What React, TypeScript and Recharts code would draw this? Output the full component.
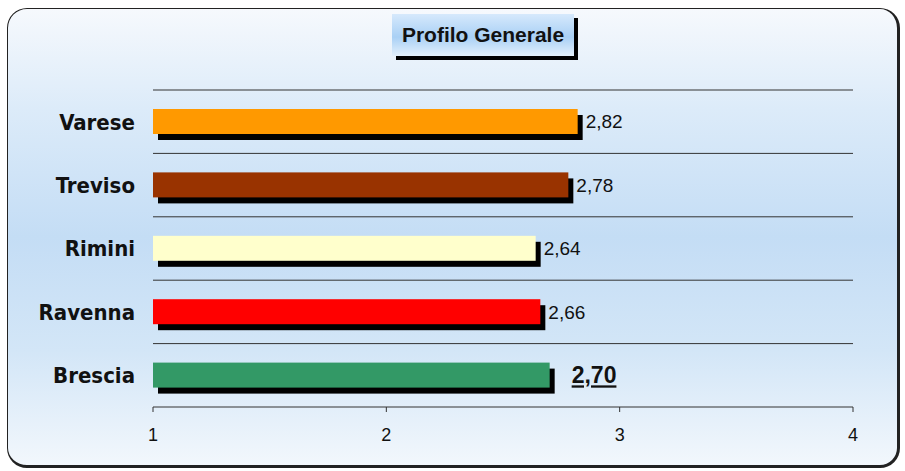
import { BarChart, Bar, XAxis, YAxis, CartesianGrid, Cell, LabelList } from 'recharts';

const CITIES = ['Varese', 'Treviso', 'Rimini', 'Ravenna', 'Brescia'];
const SCORES = [2.82, 2.78, 2.64, 2.66, 2.70];
const BAR_COLORS = ['#ff9900', '#993300', '#ffffcc', '#ff0000', '#339966'];
const X_TICKS = [1, 2, 3, 4];
const HIGHLIGHT = 'Brescia';

const rows = CITIES.map((city, i) => ({ city, score: SCORES[i], color: BAR_COLORS[i] }));

const fmt = (v: number) => v.toFixed(2).replace('.', ',');

// barra con ombra nera spostata in basso a destra
const ShadowBar = (props: any) => {
  const { x, y, width, height, fill } = props;
  if (width <= 0) return null;
  return (
    <g>
      <rect x={x + 5} y={y + 6} width={width} height={height} fill="#000" />
      <rect x={x} y={y} width={width} height={height} fill={fill} />
    </g>
  );
};

const ValueLabel = (props: any) => {
  const { x, y, width, height, value, index } = props;
  const big = CITIES[index] === HIGHLIGHT;
  const tx = x + width + (big ? 22 : 8);
  const ty = y + height / 2;
  return (
    <text
      x={tx}
      y={ty}
      dy="0.36em"
      fill="#111"
      fontFamily="Arial, 'Liberation Sans', sans-serif"
      fontSize={big ? 23 : 19}
      fontWeight={big ? 'bold' : 'normal'}
      textDecoration={big ? 'underline' : 'none'}
    >
      {fmt(value)}
    </text>
  );
};

export default function App() {
  return (
    <div style={{ position: 'absolute', left: 0, top: 0, width: 905, height: 471 }}>
      {/* cornice arrotondata con sfondo sfumato */}
      <div
        style={{
          position: 'absolute',
          left: 7,
          top: 8,
          width: 893,
          height: 460,
          boxSizing: 'border-box',
          border: '1.5px solid #222',
          borderRightWidth: 3,
          borderBottomWidth: 3,
          borderRadius: 20,
          background:
            'linear-gradient(180deg, #f6f9fd 0%, #dcebf9 22%, #c4ddf5 50%, #d3e6f7 75%, #f2f7fc 100%)',
        }}
      />
      {/* titolo */}
      <div
        style={{
          position: 'absolute',
          left: 392,
          top: 14,
          width: 182,
          height: 42,
          boxSizing: 'border-box',
          background: 'linear-gradient(180deg, #d6e9fc 0%, #a9d0f5 55%, #e3f0fc 100%)',
          boxShadow: '4px 4px 0 #000',
          display: 'flex',
          alignItems: 'center',
          justifyContent: 'center',
          fontFamily: "Arial, 'Liberation Sans', sans-serif",
          fontWeight: 'bold',
          fontSize: 21,
          color: '#111',
          whiteSpace: 'nowrap',
        }}
      >
        Profilo Generale
      </div>
      <div style={{ position: 'absolute', left: 0, top: 0 }}>
        <BarChart
          width={905}
          height={471}
          layout="vertical"
          data={rows}
          margin={{ top: 90, right: 52, bottom: 34, left: 13 }}
        >
          <CartesianGrid
            vertical={false}
            stroke="#333"
            strokeWidth={1}
            horizontalCoordinatesGenerator={({ offset }: any) =>
              CITIES.map((_, i) => offset.top + (i * offset.height) / CITIES.length)
            }
          />
          <XAxis
            type="number"
            domain={[1, 4]}
            ticks={X_TICKS}
            allowDataOverflow
            height={30}
            axisLine={{ stroke: '#333' }}
            tickLine={{ stroke: '#333' }}
            tickSize={5}
            tickMargin={16}
            tick={{ fill: '#111', fontSize: 18, fontFamily: "Arial, 'Liberation Sans', sans-serif" }}
          />
          <YAxis
            type="category"
            dataKey="city"
            width={140}
            axisLine={false}
            tickLine={false}
            tickSize={0}
            tickMargin={18}
            tick={{
              fill: '#111',
              fontSize: 22,
              fontWeight: 'bold',
              fontFamily: "'Comic Sans MS', 'DejaVu Sans Condensed', 'DejaVu Sans', sans-serif",
            }}
          />
          <Bar dataKey="score" barSize={25} shape={<ShadowBar />} isAnimationActive={false}>
            {rows.map((r) => (
              <Cell key={r.city} fill={r.color} />
            ))}
            <LabelList dataKey="score" content={<ValueLabel />} />
          </Bar>
        </BarChart>
      </div>
    </div>
  );
}
